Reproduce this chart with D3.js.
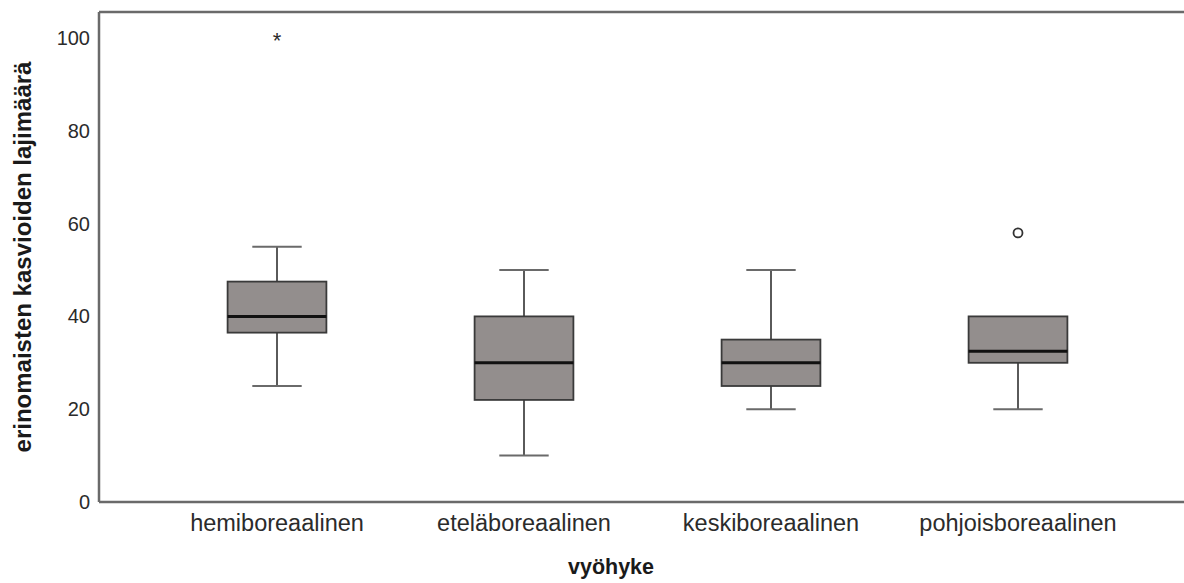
<!DOCTYPE html>
<html>
<head>
<meta charset="utf-8">
<script src="https://cdn.jsdelivr.net/npm/d3@7"></script>
<style>
  html, body { margin: 0; padding: 0; background: #fff; }
  svg { display: block; }
  text { font-family: Arial, "Liberation Sans", sans-serif; }
</style>
</head>
<body>
<div id="chart"></div>
<script>
// Zones and box-plot statistics (species counts)
const categories = ["hemiboreaalinen", "eteläboreaalinen", "keskiboreaalinen", "pohjoisboreaalinen"];
const whiskerLow  = [25, 10, 20, 20];
const q1          = [36.5, 22, 25, 30];
const median      = [40, 30, 30, 32.5];
const q3          = [47.5, 40, 35, 40];
const whiskerHigh = [55, 50, 50, 40];
// Extreme values (drawn as *) and outliers (drawn as o)
const extremeCats   = ["hemiboreaalinen"];
const extremeVals   = [100];
const outlierCats   = ["pohjoisboreaalinen"];
const outlierVals   = [58];
const yTicks = [0, 20, 40, 60, 80, 100];

const W = 1184, H = 583;
const plotLeft = 99, plotTop = 12, plotBottom = 502, plotRight = W;

const svg = d3.select("#chart").append("svg")
  .attr("width", W).attr("height", H);

const y = d3.scaleLinear().domain([0, 100]).range([plotBottom, 38]);
const x = d3.scaleBand().domain(categories).range([153.5, 1141.5]).padding(0);
const bw = x.bandwidth();
const cx = c => x(c) + bw / 2;
const boxW = bw * 0.4, capW = bw * 0.2;

// Frame: top rule, left and bottom axes
const frame = svg.append("g").attr("stroke", "#6a6a6a").attr("stroke-width", 2.5).attr("fill", "none");
frame.append("line").attr("x1", plotLeft).attr("x2", plotRight).attr("y1", plotTop).attr("y2", plotTop);
frame.append("line").attr("x1", plotLeft).attr("x2", plotLeft).attr("y1", plotTop).attr("y2", plotBottom);
frame.append("line").attr("x1", plotLeft).attr("x2", plotRight).attr("y1", plotBottom).attr("y2", plotBottom);

// Y axis labels (no tick marks)
const yAxis = d3.axisLeft(y).tickValues(yTicks).tickSize(0).tickPadding(9);
const yg = svg.append("g").attr("transform", `translate(${plotLeft},0)`).call(yAxis);
yg.select(".domain").remove();
yg.selectAll("text").attr("font-size", 20).attr("fill", "#2b2b2b")
  .attr("font-family", "Arial, 'Liberation Sans', sans-serif");

// X axis labels below the bottom axis
const xAxis = d3.axisBottom(x).tickSize(0).tickPadding(0);
const xg = svg.append("g").attr("transform", `translate(0,${plotBottom})`).call(xAxis);
xg.select(".domain").remove();
xg.selectAll("text").attr("font-size", 23.5).attr("fill", "#2b2b2b")
  .attr("font-family", "Arial, 'Liberation Sans', sans-serif")
  .attr("y", 29).attr("dy", 0);

// Box plots
const stats = categories.map((c, i) => ({
  c, lo: whiskerLow[i], q1: q1[i], med: median[i], q3: q3[i], hi: whiskerHigh[i]
}));

const g = svg.append("g");
stats.forEach(d => {
  const xc = cx(d.c);
  // whisker stems
  g.append("line").attr("x1", xc).attr("x2", xc).attr("y1", y(d.q3)).attr("y2", y(d.hi))
    .attr("stroke", "#5a5a5a").attr("stroke-width", 2);
  g.append("line").attr("x1", xc).attr("x2", xc).attr("y1", y(d.q1)).attr("y2", y(d.lo))
    .attr("stroke", "#5a5a5a").attr("stroke-width", 2);
  // caps
  if (d.hi > d.q3) {
    g.append("line").attr("x1", xc - capW / 2).attr("x2", xc + capW / 2).attr("y1", y(d.hi)).attr("y2", y(d.hi))
      .attr("stroke", "#6a6a6a").attr("stroke-width", 2);
  }
  g.append("line").attr("x1", xc - capW / 2).attr("x2", xc + capW / 2).attr("y1", y(d.lo)).attr("y2", y(d.lo))
    .attr("stroke", "#6a6a6a").attr("stroke-width", 2);
  // box
  g.append("rect").attr("x", xc - boxW / 2).attr("y", y(d.q3))
    .attr("width", boxW).attr("height", y(d.q1) - y(d.q3))
    .attr("fill", "#938e8d").attr("stroke", "#3a3a3a").attr("stroke-width", 1.8);
  // median
  g.append("line").attr("x1", xc - boxW / 2).attr("x2", xc + boxW / 2).attr("y1", y(d.med)).attr("y2", y(d.med))
    .attr("stroke", "#111").attr("stroke-width", 3);
});

// Extremes
extremeCats.forEach((c, i) => {
  svg.append("text").attr("x", cx(c)).attr("y", y(extremeVals[i]) + 10)
    .attr("text-anchor", "middle").attr("font-size", 22).attr("fill", "#2b2b2b").text("*");
});
// Outliers
outlierCats.forEach((c, i) => {
  svg.append("circle").attr("cx", cx(c)).attr("cy", y(outlierVals[i])).attr("r", 4.5)
    .attr("fill", "none").attr("stroke", "#333").attr("stroke-width", 1.8);
});

// Axis titles
svg.append("text").attr("x", 611).attr("y", 574).attr("text-anchor", "middle")
  .attr("font-size", 21.5).attr("font-weight", "bold").attr("fill", "#1a1a1a").text("vyöhyke");
svg.append("text").attr("transform", "translate(31,257) rotate(-90)").attr("text-anchor", "middle")
  .attr("font-size", 24).attr("font-weight", "bold").attr("fill", "#1a1a1a").text("erinomaisten kasvioiden lajimäärä");
</script>
</body>
</html>
